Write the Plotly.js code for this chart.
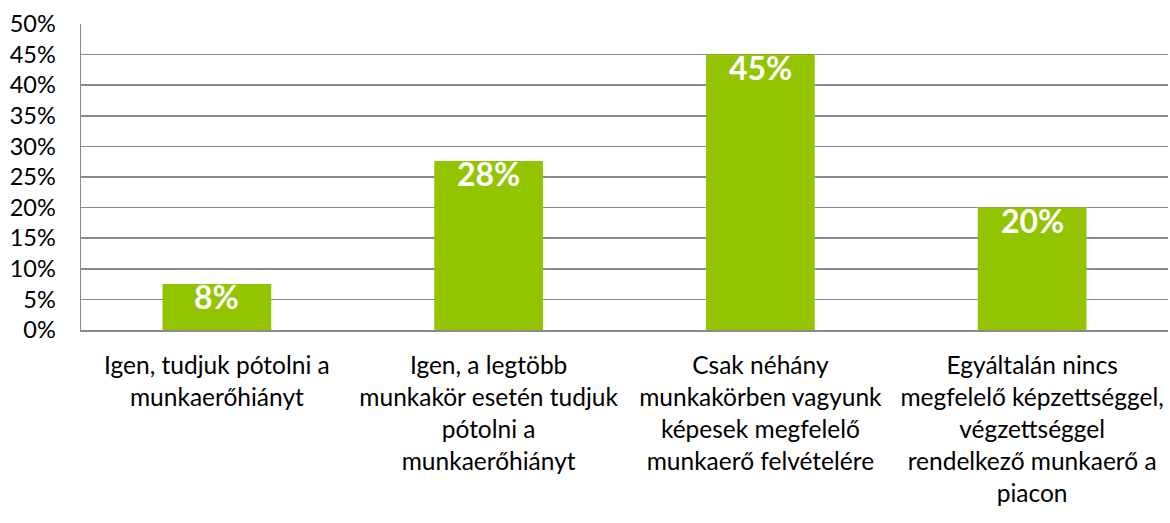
<!DOCTYPE html>
<html>
<head>
<meta charset="utf-8">
<script src="https://cdn.plot.ly/plotly-3.0.1.min.js"></script>
<style>html,body{margin:0;padding:0;background:#fff;}#chart{width:1170px;height:523px;}</style>
</head>
<body>
<div id="chart"></div>
<script>
const categories = [
  "Igen, tudjuk pótolni a<br>munkaerőhiányt",
  "Igen, a legtöbb<br>munkakör esetén tudjuk<br>pótolni a<br>munkaerőhiányt",
  "Csak néhány<br>munkakörben vagyunk<br>képesek megfelelő<br>munkaerő felvételére",
  "Egyáltalán nincs<br>megfelelő képzettséggel,<br>végzettséggel<br>rendelkező munkaerő a<br>piacon"
];
const values = [0.075, 0.276, 0.45, 0.20];
const valueLabels = ["8%", "28%", "45%", "20%"];
const yTickVals = [0, 0.05, 0.10, 0.15, 0.20, 0.25, 0.30, 0.35, 0.40, 0.45, 0.50];
const yTickText = ["0%", "5%", "10%", "15%", "20%", "25%", "30%", "35%", "40%", "45%", "50%"];

const FONT = "Lato, 'Open Sans', sans-serif";
const green = "#92C500";

const trace = {
  type: "bar",
  x: categories,
  y: values,
  marker: {color: green, line: {width: 0}},
  hoverinfo: "skip"
};

const annotations = categories.map((c, i) => ({
  x: c, y: values[i], xref: "x", yref: "y",
  text: valueLabels[i], showarrow: false,
  yanchor: "top", yshift: 9,
  font: {family: FONT, size: 32, color: "#ffffff", weight: "bold"}
}));

const layout = {
  width: 1170, height: 523,
  margin: {l: 81, r: 2, t: 24, b: 193},
  paper_bgcolor: "#ffffff", plot_bgcolor: "#ffffff",
  showlegend: false,
  bargap: 0.6,
  font: {family: FONT, size: 24, color: "#000000"},
  xaxis: {
    type: "category",
    showgrid: false,
    showline: true, linecolor: "#8a8a8a", linewidth: 2,
    ticks: "", ticklabelstandoff: 13,
    tickfont: {family: FONT, size: 24.5, color: "#000000"},
    fixedrange: true
  },
  yaxis: {
    range: [0, 0.5],
    tickvals: yTickVals, ticktext: yTickText,
    showgrid: true, gridcolor: "#8a8a8a", gridwidth: 1.5,
    showline: true, linecolor: "#8a8a8a", linewidth: 1.5,
    zeroline: false,
    ticks: "", ticklabelstandoff: 19,
    tickfont: {family: FONT, size: 23.5, color: "#000000"},
    fixedrange: true
  },
  annotations: annotations
};

Plotly.newPlot("chart", [trace], layout, {displayModeBar: false, staticPlot: true});
</script>
</body>
</html>
